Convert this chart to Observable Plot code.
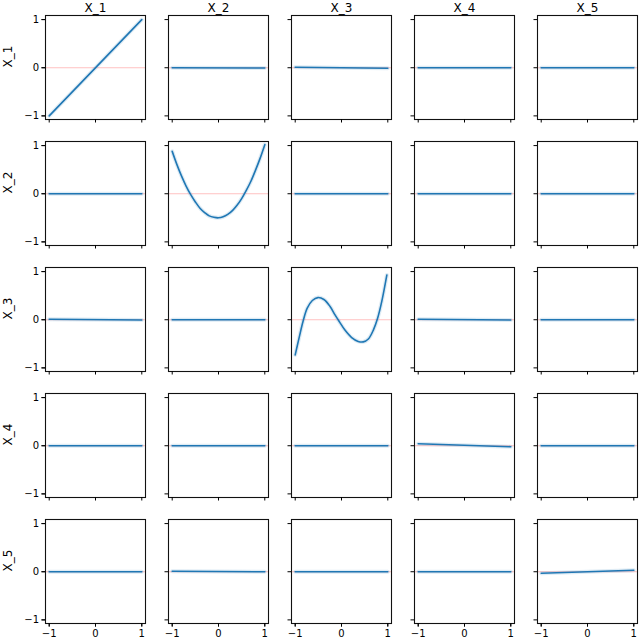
<!DOCTYPE html>
<html><head><meta charset="utf-8">
<script src="https://cdn.jsdelivr.net/npm/d3@7"></script>
<script src="https://cdn.jsdelivr.net/npm/@observablehq/plot@0.6"></script>
<style>body{margin:0;background:#fff} #chart svg{display:block}</style>
</head><body><div id="chart"></div>
<script>
const vars = ["X_1", "X_2", "X_3", "X_4", "X_5"];
const tickValues = [-1, 0, 1];

// diagonal panels
const linX = [-1, 1];
const linY = [-1, 1];
const quadX = [-1, -0.9, -0.8, -0.7, -0.6, -0.5, -0.4, -0.3, -0.2, -0.1, 0, 0.1, 0.2, 0.3, 0.4, 0.5, 0.6, 0.7, 0.8, 0.9, 1];
const quadY = [0.88, 0.61, 0.37, 0.16, -0.02, -0.17, -0.30, -0.39, -0.46, -0.49, -0.50, -0.48, -0.43, -0.35, -0.24, -0.10, 0.07, 0.26, 0.49, 0.74, 1.02];
const cubicX = [-1, -0.91, -0.83, -0.74, -0.63, -0.51, -0.38, -0.25, -0.14, -0.04, 0.07, 0.22, 0.36, 0.47, 0.58, 0.69, 0.78, 0.87, 0.98];
const cubicY = [-0.73, -0.35, -0.03, 0.24, 0.40, 0.46, 0.42, 0.28, 0.10, -0.05, -0.21, -0.37, -0.45, -0.46, -0.40, -0.21, 0.03, 0.38, 0.93];
const x4X = [-1, 1];
const x4Y = [0.04, -0.02];
const x5X = [-1, 1];
const x5Y = [-0.03, 0.03];

// off-diagonal panels: near-flat lines, value at x=-1 and at x=1 (row-major)
const flatX = [-1, 1];
const flatStart = [
  [null, 0.00, 0.01, 0.00, 0.00],
  [0.00, null, 0.00, 0.00, 0.00],
  [0.01, 0.00, null, 0.01, 0.00],
  [0.00, 0.00, 0.00, null, 0.00],
  [0.00, 0.01, 0.00, 0.00, null]
];
const flatEnd = [
  [null, -0.005, -0.01, 0.00, 0.00],
  [0.00, null, 0.00, 0.00, 0.00],
  [-0.005, 0.00, null, -0.005, 0.00],
  [0.00, 0.00, 0.00, null, 0.00],
  [0.00, 0.00, 0.00, 0.00, null]
];

const diag = [[linX, linY], [quadX, quadY], [cubicX, cubicY], [x4X, x4Y], [x5X, x5Y]];
const rows = [];
vars.forEach((rv, i) => {
  vars.forEach((cv, j) => {
    const key = rv + "|" + cv;
    if (i === j) {
      const [xs, ys] = diag[i];
      xs.forEach((x, k) => rows.push({row: rv, col: cv, key, x, y: ys[k]}));
    } else {
      rows.push({row: rv, col: cv, key, x: flatX[0], y: flatStart[i][j]});
      rows.push({row: rv, col: cv, key, x: flatX[1], y: flatEnd[i][j]});
    }
  });
});

const fmt = d => (d < 0 ? "\u2212" + Math.abs(d) : String(d));

const chart = Plot.plot({
  width: 640,
  height: 643,
  marginLeft: 43,
  marginRight: 0,
  marginTop: 15,
  marginBottom: 20,
  style: {fontFamily: "DejaVu Sans, sans-serif", fontSize: "10px", color: "#000", background: "#fff"},
  x: {domain: [-1.08, 1.08]},
  y: {domain: [-1.075, 1.085]},
  fx: {domain: vars, paddingInner: 0.185, paddingOuter: 0},
  fy: {domain: vars, paddingInner: 0.175, paddingOuter: 0, axis: null},
  marks: [
    Plot.ruleY([0], {stroke: "#ff9999", strokeOpacity: 0.6, strokeWidth: 1}),
    Plot.line(rows, {x: "x", y: "y", z: "key", fx: "col", fy: "row", stroke: "#1f77b4", strokeWidth: 4, strokeOpacity: 0.15, curve: "catmull-rom"}),
    Plot.line(rows, {x: "x", y: "y", z: "key", fx: "col", fy: "row", stroke: "#1f77b4", strokeWidth: 1.6, curve: "catmull-rom"}),
    Plot.frame({stroke: "#111", strokeWidth: 1.1}),
    Plot.axisY({ticks: tickValues, tickSize: 3.5, tickFormat: () => "", label: null, facetAnchor: null, stroke: "#000"}),
    Plot.axisX({ticks: tickValues, tickSize: 3.5, tickFormat: () => "", label: null, facetAnchor: null, stroke: "#000"}),
    Plot.axisY({ticks: tickValues, tickSize: 3.5, tickPadding: 3, tickFormat: fmt, label: null, fontSize: 10}),
    Plot.axisX({ticks: tickValues, tickSize: 3.5, tickPadding: 3, tickFormat: fmt, label: null, fontSize: 10}),
    Plot.axisFx({anchor: "top", tickSize: 0, tickPadding: 4, label: null, fontSize: 12}),
    Plot.text(vars, {fy: d => d, fx: () => "X_1", text: d => d, frameAnchor: "left", dx: -37, rotate: -90, fontSize: 12, fill: "#000"})
  ]
});
document.getElementById("chart").appendChild(chart);
</script>
</body></html>
